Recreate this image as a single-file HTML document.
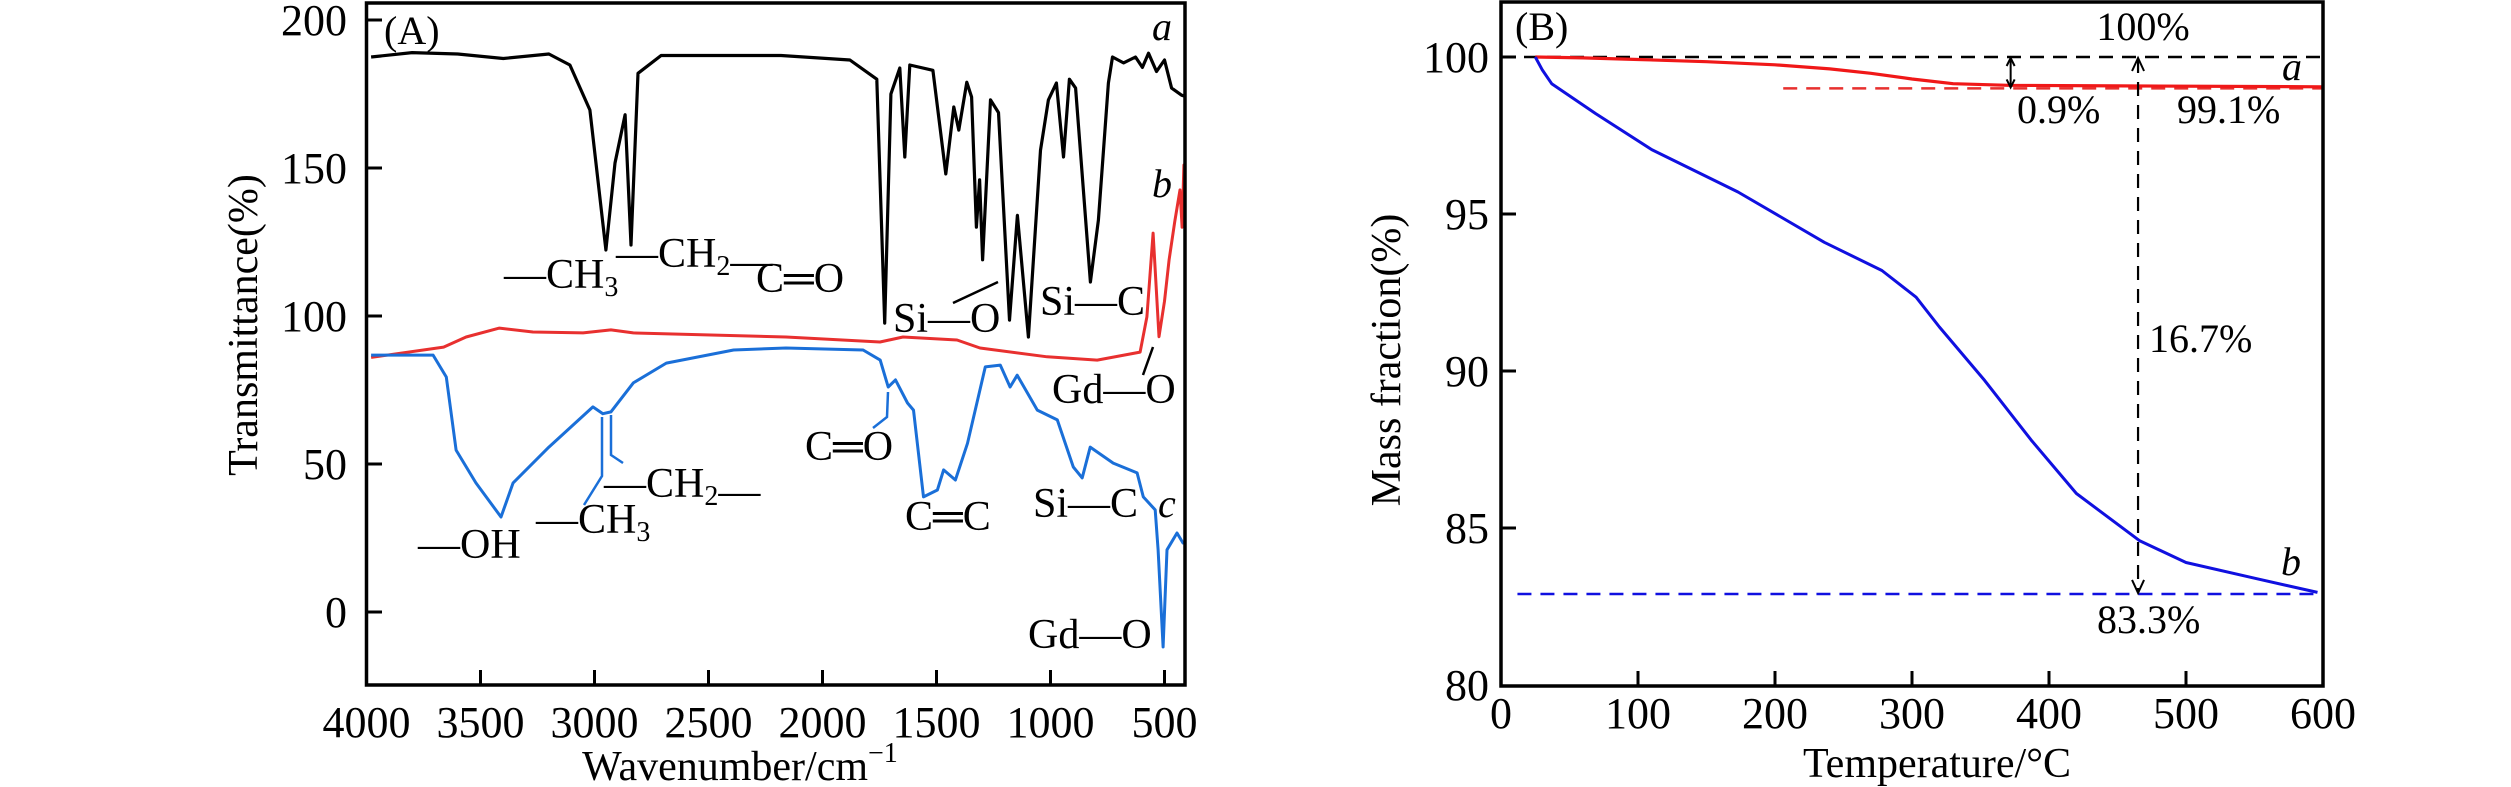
<!DOCTYPE html>
<html><head><meta charset="utf-8">
<style>
html,body{margin:0;padding:0;background:#fff;}
svg{display:block;font-family:"Liberation Serif","Times New Roman",serif;}
svg text{font-family:"Liberation Serif","Times New Roman",serif;}
</style></head>
<body>
<svg id="fig" width="2511" height="787" viewBox="0 0 2511 787" xmlns="http://www.w3.org/2000/svg" font-family="Liberation Serif, serif">
</svg>
<script>
// ---------- Panel A data (FTIR) ----------
const aWave = [3980,3800,3600,3400,3200,3108,3020,2950,2910,2866,2840,2809,2708,2182,1880,1762,1727,1700,1661,1639,1617,1516,1459,1424,1402,1367,1346,1325,1311,1298,1263,1228,1180,1145,1097,1044,1009,974,943,917,890,825,790,746,728,680,627,597,570,535,500,469,425,400];
const aVal  = [187.5,189,188.5,187,188.5,184.8,169.6,122.3,151.7,168,124,182,188,188,186.5,180,97.6,175,183.8,153.7,184.8,183,148,170.6,162.8,179,174,130,146,119,173,168.7,98.6,134,92.9,156,173,178.7,153.7,180,177,111.5,132.4,178.7,187.5,185.5,187.5,184,188.8,182.6,186.5,177,174.6,174];
const bWave = [3980,3662,3563,3417,3270,3050,2928,2830,2160,1748,1647,1410,1309,1015,795,607,577,550,524,500,480,455,432,423,415,400];
const bVal  = [86,89.5,92.9,95.9,94.6,94.3,95.3,94.3,92.9,91.2,92.9,91.9,89.2,86.2,85.1,87.8,99.7,128,93,105,119,132,142.6,130,151,140];
const cWave = [3980,3708,3650,3607,3520,3410,3357,3200,3007,2963,2928,2830,2685,2390,2160,1822,1747,1712,1680,1627,1601,1557,1496,1469,1417,1364,1286,1220,1177,1146,1058,970,900,861,826,725,620,593,541,528,506,489,445,419,400];
const cVal  = [86.8,86.8,79.4,54.7,43.6,32.1,43.6,55.7,69.3,67,67.6,77.4,84.1,88.5,89.2,88.5,85.1,76,78.4,70.6,68.2,38.9,41.2,48,44.6,57,82.8,83.4,76,80,68.2,64.9,49,45.3,55.7,50.3,47,38.9,34.5,21,-11.8,21,26.7,23.3,24];
const aXTicks = [4000,3500,3000,2500,2000,1500,1000,500];
const aYTicks = [0,50,100,150,200];
// ---------- Panel B data (TGA) ----------
const tempA = [25,60,100,150,200,240,270,300,330,370,450,600];
const massA = [100,99.97,99.92,99.85,99.75,99.62,99.48,99.3,99.15,99.1,99.08,99.05];
const tempB = [25,30,37,69,110,173,236,278,303,320,353,387,420,466,500,550,596];
const massB = [100,99.6,99.15,98.2,97.05,95.7,94.1,93.2,92.35,91.4,89.7,87.8,86.1,84.6,83.9,83.4,82.95];
const bXTicks = [0,100,200,300,400,500,600];
const bYTicks = [80,85,90,95,100];
const refLevels = [100,99.0,82.9];   // 100% line, residue a, residue b

const NS="http://www.w3.org/2000/svg";
const svg=document.getElementById('fig');
function el(tag,attrs,parent){const e=document.createElementNS(NS,tag);for(const k in attrs)e.setAttribute(k,attrs[k]);(parent||svg).appendChild(e);return e;}

const axA={x:w=>366.5+(4000-w)*0.228, y:v=>612-v*2.96};
const axB={x:t=>1501+t*1.37, y:m=>57+(100-m)*31.4};

function pathFrom(xs,ys,ax){return xs.map((x,i)=>(i?'L':'M')+ax.x(x).toFixed(1)+','+ax.y(ys[i]).toFixed(1)).join(' ');}
const FF='Liberation Serif, Times New Roman, serif';
function text(str,x,y,size,opts,parent){const t=el('text',Object.assign({x:x,y:y,'font-size':size,fill:'#000','font-family':FF},opts||{}),parent);t.textContent=str;return t;}

// ===== Panel A =====
const gA=el('g',{});


const clipA=el('clipPath',{id:'clipA'});el('rect',{x:366,y:3,width:820,height:682},clipA);
const la=el('path',{d:pathFrom(aWave,aVal,axA),fill:'none',stroke:'#000','stroke-width':3.2,'stroke-linejoin':'round','clip-path':'url(#clipA)'},gA);


const lb=el('path',{d:pathFrom(bWave,bVal,axA),fill:'none',stroke:'#e8302f','stroke-width':3,'stroke-linejoin':'round','clip-path':'url(#clipA)'},gA);


const lc=el('path',{d:pathFrom(cWave,cVal,axA),fill:'none',stroke:'#1a6fd8','stroke-width':3,'stroke-linejoin':'round','clip-path':'url(#clipA)'},gA);


const frA=el('rect',{x:366.5,y:3,width:818.5,height:682,fill:'none',stroke:'#000','stroke-width':3.5},gA);


aXTicks.forEach(w=>{const x=axA.x(w);
  el('line',{x1:x,y1:685,x2:x,y2:670,stroke:'#000','stroke-width':3},gA);
  const t=text(String(w),x,737,44,{'text-anchor':'middle'},gA);
  
  });
aYTicks.forEach(v=>{const y=axA.y(v);
  el('line',{x1:366.5,y1:y,x2:382,y2:y,stroke:'#000','stroke-width':3},gA);
  const t=text(String(v),347,y+15,44,{'text-anchor':'end'},gA);
  
  });
const xtA=el('text',{x:740,y:780,'font-size':42,'text-anchor':'middle','font-family':FF},gA);
xtA.innerHTML='Wavenumber/cm<tspan font-size="28" dy="-18">−1</tspan>';


const ytA=text('Transmittance(%)',0,0,42,{'text-anchor':'middle',transform:'translate(257,325) rotate(-90)'},gA);


const pA=text('(A)',384,44,40,{},gA);


[['a',1152,40],['b',1152,197],['c',1158,517]].forEach(d=>{const t=text(d[0],d[1],d[2],40,{'font-style':'italic'},gA);
  
  });
function chem(html,x,y,name){const t=el('text',{x:x,y:y,'font-size':42,'font-family':FF},gA);t.innerHTML=html;
  
  return t;}
const sub=s=>'<tspan font-size="28" dy="8">'+s+'</tspan><tspan dy="-8"></tspan>';
chem('—CH'+sub('3'),504,288,'label-ch3-a');
chem('—CH'+sub('2')+'—',616,267,'label-ch2-a');
chem('C═O',756,292,'label-co-a');
chem('Si—O',893,332,'label-sio-a');
chem('Si—C',1040,315,'label-sic-a');
chem('Gd—O',1052,403,'label-gdo-b');
chem('C═O',805,460,'label-co-c');
chem('C═C',905,530,'label-cc-c');
chem('Si—C',1033,517,'label-sic-c');
chem('Gd—O',1028,648,'label-gdo-c');
chem('—OH',418,558,'label-oh-c');
chem('—CH'+sub('3'),536,533,'label-ch3-c');
chem('—CH'+sub('2')+'—',604,497,'label-ch2-c');
[['M953,303 L998,282','#000'],['M1143,375 L1153,347','#000'],['M873,428 L887,417 L888,392','#1a6fd8'],
 ['M584,505 L602,476 L602,417','#1a6fd8'],['M623,463 L611,455 L611,415','#1a6fd8']].forEach(d=>{
  const p=el('path',{d:d[0],fill:'none',stroke:d[1],'stroke-width':2.5},gA);
  
  });

// ===== Panel B =====
const gB=el('g',{});


const r0=el('line',{x1:axB.x(0),y1:axB.y(refLevels[0]),x2:axB.x(600),y2:axB.y(refLevels[0]),stroke:'#000','stroke-width':2.5,'stroke-dasharray':'14,9'},gB);


const r1=el('line',{x1:axB.x(206),y1:axB.y(refLevels[1]),x2:axB.x(600),y2:axB.y(refLevels[1]),stroke:'#e8302f','stroke-width':2.5,'stroke-dasharray':'14,9'},gB);


const r2=el('line',{x1:axB.x(12),y1:axB.y(refLevels[2]),x2:axB.x(600),y2:axB.y(refLevels[2]),stroke:'#1010e0','stroke-width':2.5,'stroke-dasharray':'14,9'},gB);


const ma=el('path',{d:pathFrom(tempA,massA,axB),fill:'none',stroke:'#f01818','stroke-width':3.2},gB);


const mb=el('path',{d:pathFrom(tempB,massB,axB),fill:'none',stroke:'#1010e0','stroke-width':3,'stroke-linejoin':'round'},gB);


const vx=axB.x(465);
const va=el('line',{x1:vx,y1:axB.y(100)+2,x2:vx,y2:axB.y(refLevels[2])-2,stroke:'#000','stroke-width':2.2,'stroke-dasharray':'14,9'},gB);


el('path',{d:`M${vx-6},${axB.y(100)+14} L${vx},${axB.y(100)+1} L${vx+6},${axB.y(100)+14}`,fill:'none',stroke:'#000','stroke-width':2},gB);
el('path',{d:`M${vx-6},${axB.y(refLevels[2])-14} L${vx},${axB.y(refLevels[2])-1} L${vx+6},${axB.y(refLevels[2])-14}`,fill:'none',stroke:'#000','stroke-width':2},gB);
const ax2=axB.x(372);
const da=el('line',{x1:ax2,y1:axB.y(100)+2,x2:ax2,y2:axB.y(refLevels[1])-2,stroke:'#000','stroke-width':2},gB);


el('path',{d:`M${ax2-4},${axB.y(100)+9} L${ax2},${axB.y(100)+1} L${ax2+4},${axB.y(100)+9} M${ax2-4},${axB.y(refLevels[1])-9} L${ax2},${axB.y(refLevels[1])-1} L${ax2+4},${axB.y(refLevels[1])-9}`,fill:'none',stroke:'#000','stroke-width':2},gB);
const frB=el('rect',{x:1501,y:2,width:822,height:684,fill:'none',stroke:'#000','stroke-width':3.5},gB);


bXTicks.forEach(t=>{const x=axB.x(t);
  if(t>0&&t<600) el('line',{x1:x,y1:686,x2:x,y2:671,stroke:'#000','stroke-width':3},gB);
  const l=text(String(t),x,728,44,{'text-anchor':'middle'},gB);
  
  });
bYTicks.forEach(m=>{const y=axB.y(m);
  if(m>80) el('line',{x1:1501,y1:y,x2:1516,y2:y,stroke:'#000','stroke-width':3},gB);
  const l=text(String(m),1489,m===80?700:y+15,44,{'text-anchor':'end'},gB);
  
  });
const xtB=text('Temperature/°C',1937,777,42,{'text-anchor':'middle'},gB);


const ytB=text('Mass fraction(%)',0,0,42,{'text-anchor':'middle',transform:'translate(1400,360) rotate(-90)'},gB);


[['(B)',1515,40,'panel-label-b',{}],['100%',2143,40,'label-100',{'text-anchor':'middle'}],['0.9%',2017,123,'label-loss-a',{}],
 ['99.1%',2177,123,'label-residue-a',{}],['16.7%',2149,352,'label-loss-b',{}],['83.3%',2097,633,'label-residue-b',{}]].forEach(d=>{
  const t=text(d[0],d[1],d[2],40,d[4],gB);
  
  });
[['a',2282,80],['b',2281,575]].forEach(d=>{const t=text(d[0],d[1],d[2],40,{'font-style':'italic'},gB);
  
  });
</script>
</body></html>
